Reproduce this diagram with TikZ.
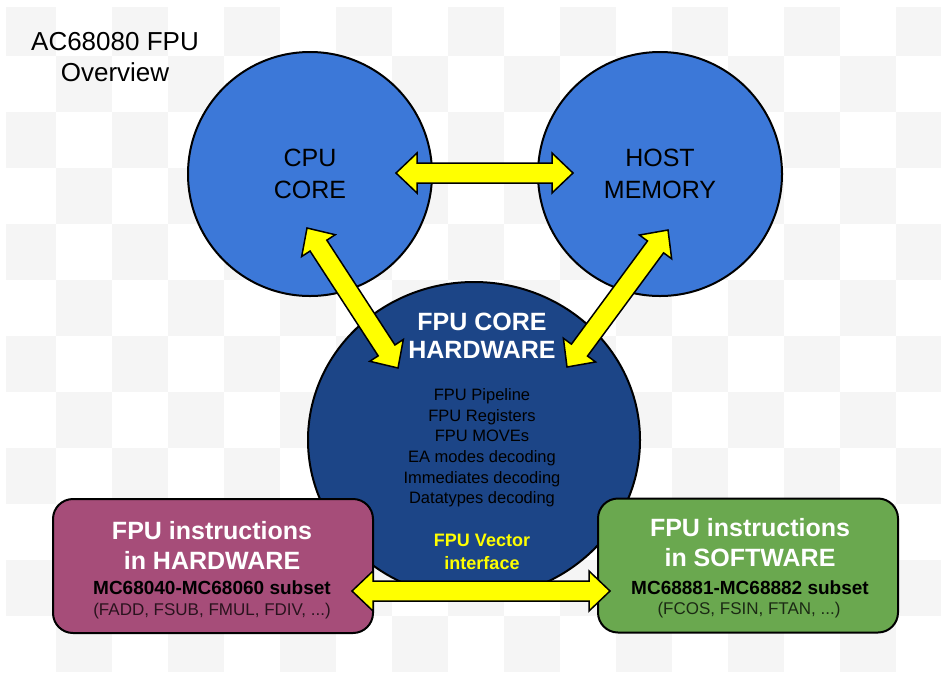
\documentclass[tikz,border=0pt]{standalone}
\usepackage{fontspec}
\setmainfont{Liberation Sans}
\usetikzlibrary{calc,shapes.geometric}

\definecolor{cpublue}{HTML}{3C78D8}
\definecolor{fpublue}{HTML}{1C4587}
\definecolor{hwpink}{HTML}{A64D79}
\definecolor{swgreen}{HTML}{6AA84F}
\definecolor{checker}{HTML}{F5F5F5}
\definecolor{arrowyellow}{HTML}{FFFF00}

\tikzset{
  unit/.style={circle,draw=black,line width=2pt,fill=cpublue,minimum size=244pt,
    inner sep=0pt,align=center,font=\fontsize{25}{32}\selectfont},
  core/.style={ellipse,draw=black,line width=2pt,fill=fpublue,
    minimum width=332pt,minimum height=316pt,inner sep=0pt},
  insbox/.style={rectangle,rounded corners=20pt,draw=black,line width=2pt,
    minimum height=134pt,inner sep=0pt},
  fatarrow/.style={fill=arrowyellow,draw=black,line width=1.5pt,line join=miter},
  txt/.style={inner sep=0pt,align=center},
}

% double headed fat arrow between two named coordinates
\newcommand{\FatArrow}[2]{%
  \path ($(#1)!21pt!(#2)$) coordinate (#1h) ($(#2)!21pt!(#1)$) coordinate (#2h);
  \draw[fatarrow] (#1) -- ($(#1h)!20pt!90:(#2)$) -- ($(#1h)!10pt!90:(#2)$)
    -- ($(#2h)!10pt!-90:(#1)$) -- ($(#2h)!20pt!-90:(#1)$) -- (#2)
    -- ($(#2h)!20pt!90:(#1)$) -- ($(#2h)!10pt!90:(#1)$)
    -- ($(#1h)!10pt!-90:(#2)$) -- ($(#1h)!20pt!-90:(#2)$) -- cycle;}

\begin{document}
\begin{tikzpicture}[x=1pt,y=-1pt]
\useasboundingbox (0,0) rectangle (941,673);
%Background
\begin{scope}
\clip (6,7) rectangle (941,673);
\foreach \i in {0,...,16}{\foreach \j in {0,...,11}{%
  \ifodd\numexpr\i+\j\relax\else
    \fill[checker] (56*\i,56*\j) rectangle +(56,56);
  \fi}}
\end{scope}
%Title
\node[txt,font=\fontsize{26}{31}\selectfont] (title) at (115,57) {AC68080 FPU\\Overview};
%Units
\node[unit] (cpu)  at (310,174) {CPU\\CORE};
\node[unit] (host) at (660,174) {HOST\\MEMORY};
\node[core] (fpu)  at (474,440) {};
\node[txt,text=white,font=\bfseries\fontsize{25}{28.5}\selectfont] (fputitle) at (482,336) {FPU CORE\\HARDWARE};
\node[txt,font=\fontsize{16.5}{20.6}\selectfont] (fpulist) at (482,448)
  {FPU Pipeline\\FPU Registers\\FPU MOVEs\\EA modes decoding\\Immediates decoding\\Datatypes decoding};
\node[txt,text=arrowyellow,font=\bfseries\fontsize{18}{23}\selectfont] (vector) at (482,552) {FPU Vector\\interface};
%Instruction boxes
\node[insbox,fill=hwpink,minimum width=320pt] (hw) at (213,566) {};
\node[insbox,fill=swgreen,minimum width=300pt] (sw) at (748,565.5) {};
\node[txt,text=white,font=\bfseries\fontsize{25}{30}\selectfont] (hwtitle) at (212,545) {FPU instructions\\in HARDWARE};
\node[txt,font=\bfseries\fontsize{19}{22}\selectfont] (hwset) at (212,588) {MC68040-MC68060 subset};
\node[txt,text=black!75!hwpink,font=\fontsize{17}{20}\selectfont] (hwops) at (212,611) {(FADD, FSUB, FMUL, FDIV, ...)};
\node[txt,text=white,font=\bfseries\fontsize{25}{30}\selectfont] (swtitle) at (750,543) {FPU instructions\\in SOFTWARE};
\node[txt,font=\bfseries\fontsize{19}{22}\selectfont] (swset) at (750,588) {MC68881-MC68882 subset};
\node[txt,text=black!75!swgreen,font=\fontsize{17}{20}\selectfont] (swops) at (749,610) {(FCOS, FSIN, FTAN, ...)};
%Arrow ends
\coordinate (cpuE)  at ([shift={(86,-1)}]cpu.center);
\coordinate (hostW) at ([shift={(-87,-1)}]host.center);
\coordinate (cpuS)  at ([shift={(-3,54)}]cpu.center);
\coordinate (fpuNW) at ([shift={(-76,-72)}]fpu.center);
\coordinate (hostS) at ([shift={(8,56)}]host.center);
\coordinate (fpuNE) at ([shift={(93,-73)}]fpu.center);
\coordinate (hwE)   at ([shift={(139,25)}]hw.center);
\coordinate (swW)   at ([shift={(-138,25.5)}]sw.center);
%Arrows
\FatArrow{cpuE}{hostW}
\FatArrow{cpuS}{fpuNW}
\FatArrow{hostS}{fpuNE}
\FatArrow{hwE}{swW}
\end{tikzpicture}
\end{document}
